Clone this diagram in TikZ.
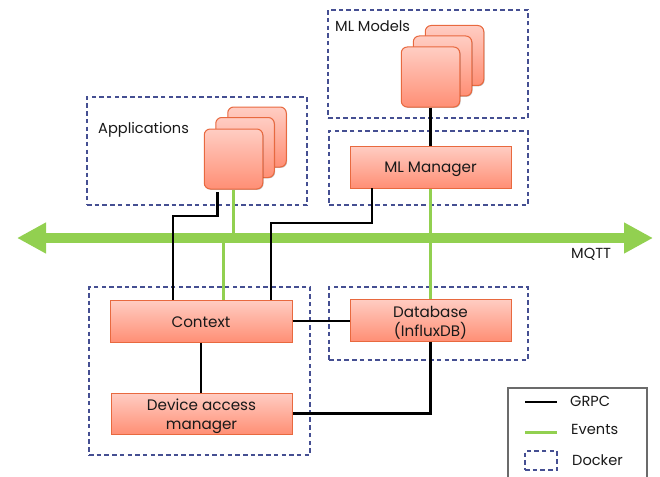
\documentclass[tikz,border=0pt]{standalone}
\usepackage{fontspec}
\setmainfont{Poppins}
\usetikzlibrary{arrows.meta,calc,shadows}
\definecolor{boxtop}{HTML}{FFCDC3}
\definecolor{boxbot}{HTML}{FF8F75}
\definecolor{boxline}{HTML}{E8693F}
\definecolor{evgreen}{HTML}{92D050}
\definecolor{dockblue}{HTML}{454F92}
\definecolor{legline}{HTML}{6B6B6B}
\newcommand\oneln[1]{\rule[-4pt]{0pt}{20pt}#1}
\newcommand\twoln[2]{\rule[-4pt]{0pt}{21pt}#1\\#2\rule[-4pt]{0pt}{4pt}}
\tikzset{
  comp/.style={draw=boxline,line width=1pt,top color=boxtop,bottom color=boxbot,
    inner sep=0pt,align=center,font=\fontsize{15.2}{19}\selectfont,text=black!90,
    drop shadow={shadow xshift=0.8pt,shadow yshift=-0.8pt,opacity=.25,fill=black}},
  widebox/.style={comp,minimum width=161pt},
  stackbox/.style={comp,rounded corners=6pt,minimum width=58.5pt,minimum height=60pt},
  docker/.style={draw=dockblue,line width=1.1pt,dash pattern=on 4.5pt off 3.2pt,inner sep=0pt},
  grpc/.style={draw=black,line width=2.2pt},
  events/.style={draw=evgreen,line width=3pt},
  label/.style={inner sep=0pt,font=\fontsize{14.6}{17}\selectfont,text=black!90,anchor=base west},
}
\begin{document}
\begin{tikzpicture}[x=1pt,y=-1pt]
\useasboundingbox (0,0) rectangle (660,476);
% docker boxes
\node[docker,minimum width=220pt,minimum height=108pt] (dapp) at (197,151) {};
\node[docker,minimum width=200pt,minimum height=108pt] (dmodels) at (428,64) {};
\node[docker,minimum width=199pt,minimum height=74pt] (dmanager) at (428.5,168) {};
\node[docker,minimum width=221pt,minimum height=168pt] (dcore) at (199.5,371) {};
\node[docker,minimum width=199pt,minimum height=73pt] (ddb) at (428.5,323.5) {};
% MQTT bus
\coordinate (busL) at (17,238);
\coordinate (busR) at (653,238);
\draw[draw=evgreen,line width=10pt,{Triangle[length=29pt,width=29pt]}-{Triangle[length=29pt,width=29pt]}] (busL) -- (busR);
% components
\node[stackbox] (app3) at (257,137) {};
\node[stackbox] (app2) at (245,147.5) {};
\node[stackbox] (app1) at (233.5,159) {};
\node[stackbox] (ml3) at (454.5,55.5) {};
\node[stackbox] (ml2) at (442.5,66) {};
\node[stackbox] (ml1) at (430.5,77) {};
\node[widebox,minimum height=42pt] (mgr) at (430.5,167) {\oneln{ML Manager}};
\node[widebox,minimum height=42pt] (db) at (430.5,320) {\twoln{Database}{(InfluxDB)}};
\node[comp,minimum width=182pt,minimum height=42pt] (ctx) at (201,321) {\oneln{Context}};
\node[comp,minimum width=181pt,minimum height=41pt] (dam) at (201.5,413.5) {\twoln{Device access}{manager}};
% connector waypoints
\coordinate (appB) at (217.5,192);
\coordinate (appV) at (217.5,216);
\coordinate (ctxL) at (173,300);
\coordinate (ctxR) at (271,300);
\coordinate (mgrB) at (372,188);
\coordinate (busE1) at (233,238);
\coordinate (busE2) at (223,238);
\coordinate (ctxG) at (223,300);
\coordinate (busTop) at (372,223);
% Events
\draw[events] (app1.south -| busE1) -- (busE1);
\draw[events] (busE2) -- (ctxG);
\draw[events] (mgr.south) -- (db.north);
% GRPC
\draw[grpc] (appB) -- (appV) -| (ctxL);
\draw[grpc] (ctxR) |- (busTop) -- (mgrB);
\draw[grpc] (ml1.south) -- (mgr.north);
\draw[grpc] (ctx.east) -- (ctx.east -| db.west);
\draw[grpc] (ctx.south) -- (ctx.south |- dam.north);
\draw[grpc] (db.south) |- (dam.east);
% titles
\node[label] (tapp) at (98,133) {Applications};
\node[label] (tml) at (335,32) {ML Models};
\node[label] (tmqtt) at (571,258) {MQTT};
% legend
\node[draw=legline,line width=1.5pt,minimum width=139pt,minimum height=100pt,inner sep=0pt] (legend) at (577.5,438) {};
\coordinate (g1) at (525,402); \coordinate (g2) at (557,402);
\coordinate (e1) at (525,432); \coordinate (e2) at (557,432);
\draw[grpc] (g1) -- (g2);
\draw[events] (e1) -- (e2);
\node[docker,minimum width=32pt,minimum height=19pt] (ldock) at (541,460.5) {};
\node[label] (lg) at (570,406.5) {GRPC};
\node[label] (le) at (571,434) {Events};
\node[label] (ld) at (572,465.5) {Docker};
\end{tikzpicture}
\end{document}
